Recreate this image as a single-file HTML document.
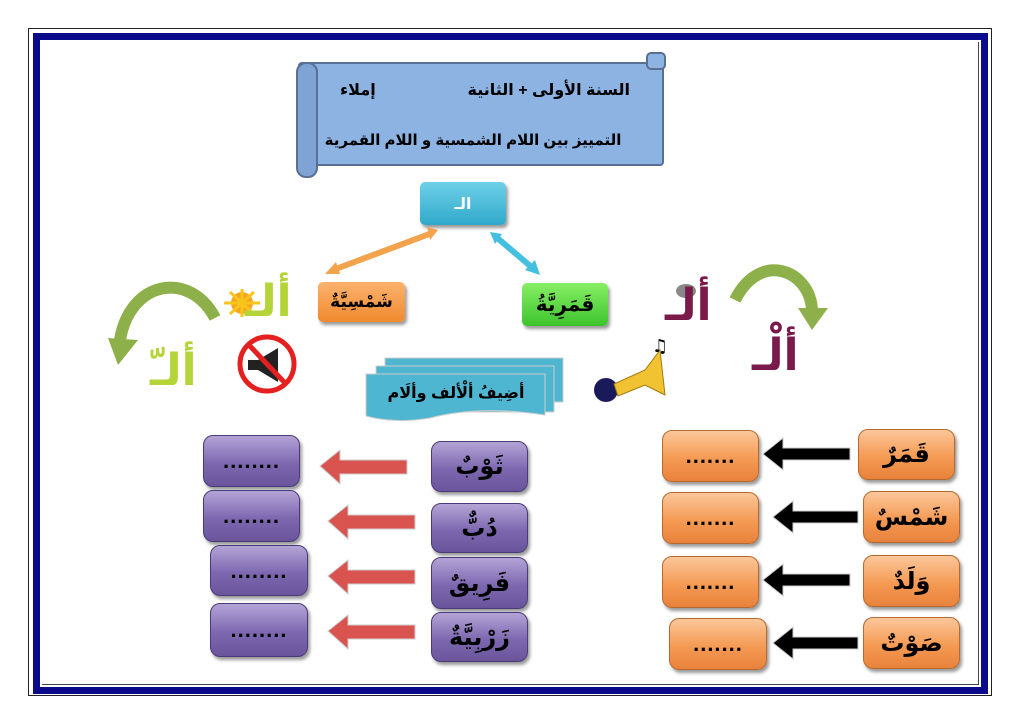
<!DOCTYPE html>
<html><head><meta charset="utf-8"><style>
body{margin:0;width:1024px;height:724px;background:#fff;position:relative;overflow:hidden;font-family:"Liberation Sans","DejaVu Sans",sans-serif}
.a{position:absolute}
.t{display:flex;align-items:center;justify-content:center;font-weight:bold;direction:rtl;white-space:nowrap}
.pb{background:linear-gradient(#b3a4d6,#7d68b0 55%,#6a559c);border:1px solid #4b3a78;border-radius:10px;box-shadow:2px 3px 3px #999;font-size:24px;color:#000}
.ob{background:linear-gradient(#fbc79a,#f59a54 55%,#e8823b);border:1px solid #b86a2e;border-radius:10px;box-shadow:2px 3px 3px #999;font-size:24px;color:#000}
.dots{font-size:22px;letter-spacing:1px;direction:ltr}
</style></head><body>
<!-- border -->
<div class="a" style="left:28px;top:28px;width:962px;height:666px;border:1px solid #222"></div>
<div class="a" style="left:33px;top:33px;width:941px;height:647px;border:7px solid #0a0a8a"></div>
<div class="a" style="left:42px;top:42px;width:936px;height:642px;border:1px solid #444;border-left:none;border-top:none"></div>

<!-- scroll -->
<div class="a" style="left:298px;top:62px;width:362px;height:100px;background:#8db3e2;border:2px solid #5a6f94;border-radius:4px"></div>
<div class="a" style="left:296px;top:62px;width:18px;height:112px;background:#7ea3d4;border:2px solid #5a6f94;border-radius:10px"></div>
<div class="a" style="left:646px;top:52px;width:16px;height:14px;background:#8db3e2;border:2px solid #5a6f94;border-radius:5px"></div>
<div class="a t" style="left:340px;top:78px;width:290px;height:24px;font-size:16px;justify-content:space-between"><span>السنة الأولى + الثانية</span><span>إملاء</span></div>
<div class="a t" style="left:318px;top:128px;width:310px;height:24px;font-size:15px">التمييز بين اللام الشمسية و اللام القمرية</div>

<!-- al box -->
<div class="a t" style="left:420px;top:182px;width:86px;height:43px;background:linear-gradient(#6fd0e8,#2fa9cb);border-radius:5px;box-shadow:2px 3px 3px #999;color:#fff;font-size:16px">الـ</div>
<svg class="a" style="left:0;top:0" width="1024" height="724">
<line x1="333" y1="270" x2="432" y2="233" stroke="#f3a34c" stroke-width="6"/>
<polygon points="325,274 336,262 340,274" fill="#f3a34c"/>
<polygon points="438,230 427,227 430,240" fill="#f3a34c"/>
<line x1="495" y1="236" x2="535" y2="270" stroke="#45bfe0" stroke-width="6"/>
<polygon points="540,275 525,270 535,260" fill="#45bfe0"/>
<polygon points="490,232 502,234 495,244" fill="#45bfe0"/>
<path d="M215,318 C190,270 130,280 120,340" stroke="#8db04a" stroke-width="12" fill="none"/>
<polygon points="108,338 138,340 118,365" fill="#8db04a"/>
<path d="M735,300 C760,250 810,270 812,310" stroke="#8db04a" stroke-width="12" fill="none"/>
<polygon points="798,308 828,308 812,330" fill="#8db04a"/>
<circle cx="242" cy="303" r="11" fill="#f7a51c"/>
<g stroke="#f7c51c" stroke-width="3"><line x1="224" y1="303" x2="260" y2="303"/><line x1="242" y1="289" x2="242" y2="317"/><line x1="230" y1="292" x2="254" y2="314"/><line x1="254" y1="292" x2="230" y2="314"/></g>
<circle cx="267" cy="364" r="27" fill="#fff" stroke="#e52020" stroke-width="5"/>
<polygon points="248,360 258,360 278,348 278,382 258,370 248,370" fill="#222"/>
<line x1="248" y1="344" x2="286" y2="384" stroke="#e52020" stroke-width="5"/>
<ellipse cx="686" cy="291" rx="10" ry="7" fill="#888"/>
<circle cx="606" cy="390" r="12" fill="#1a1a5a"/>
<path d="M614,384 L645,370 L660,350 L665,395 L645,385 L618,396Z" fill="#f1c232" stroke="#a07a10"/>
<text x="652" y="352" font-size="18" font-family="DejaVu Sans">♫</text>
<rect x="385" y="358" width="178" height="44" fill="#4fb6d1" stroke="#ccc"/>
<rect x="376" y="366" width="178" height="46" fill="#4fb6d1" stroke="#ccc"/>
<path d="M366,374 H545 V415 Q480,405 430,418 Q395,424 366,416Z" fill="#4fb6d1" stroke="#ccc"/>
<g fill="#d9534f" stroke="#ccc" stroke-width="1">
<polygon points="320,466 340,450 340,460 407,460 407,474 340,474 340,484"/>
<polygon points="328,521 348,505 348,515 415,515 415,529 348,529 348,539"/>
<polygon points="328,576 348,560 348,570 415,570 415,584 348,584 348,594"/>
<polygon points="328,631 348,615 348,625 415,625 415,639 348,639 348,649"/>
</g>
<g fill="#000" stroke="#ccc" stroke-width="1">
<polygon points="763,454 783,438 783,448 850,448 850,460 783,460 783,470"/>
<polygon points="773,517 793,501 793,511 858,511 858,523 793,523 793,533"/>
<polygon points="763,580 783,564 783,574 850,574 850,586 783,586 783,596"/>
<polygon points="773,643 793,627 793,637 858,637 858,649 793,649 793,659"/>
</g>
</svg>
<div class="a t" style="left:366px;top:378px;width:180px;height:30px;font-size:16px;color:#000">أضِيفُ ألْألف وألَام</div>

<div class="a t" style="left:318px;top:282px;width:87px;height:40px;background:linear-gradient(#fbb26e,#f08a2e);border-radius:5px;box-shadow:2px 3px 3px #999;font-size:17px">شَمْسِيَّةٌ</div>
<div class="a t" style="left:522px;top:283px;width:86px;height:43px;background:linear-gradient(#88ee66,#3cc42c);border-radius:5px;box-shadow:2px 3px 3px #999;font-size:20px">قَمَرِيَّةُ</div>

<div class="a t" style="left:245px;top:276px;font-size:44px;color:#b5d43a">ألـ</div>
<div class="a t" style="left:150px;top:345px;font-size:44px;color:#b5d43a">ألـّ</div>
<div class="a t" style="left:665px;top:280px;font-size:44px;color:#7a1a4a">ألـ</div>
<div class="a t" style="left:752px;top:330px;font-size:44px;color:#7a1a4a">ألْـ</div>

<div class="a t pb dots" style="left:203px;top:435px;width:95px;height:50px">........</div>
<div class="a t pb dots" style="left:203px;top:490px;width:95px;height:50px">........</div>
<div class="a t pb dots" style="left:210px;top:545px;width:96px;height:49px">........</div>
<div class="a t pb dots" style="left:210px;top:603px;width:96px;height:52px">........</div>
<div class="a t pb" style="left:431px;top:441px;width:95px;height:49px">ثَوْبٌ</div>
<div class="a t pb" style="left:431px;top:503px;width:95px;height:48px">دُبٌّ</div>
<div class="a t pb" style="left:431px;top:557px;width:95px;height:50px">فَرِيقٌ</div>
<div class="a t pb" style="left:431px;top:612px;width:95px;height:48px">زَرْبِيَّةٌ</div>
<div class="a t ob dots" style="left:662px;top:430px;width:95px;height:50px">.......</div>
<div class="a t ob dots" style="left:662px;top:492px;width:95px;height:50px">.......</div>
<div class="a t ob dots" style="left:662px;top:556px;width:95px;height:50px">.......</div>
<div class="a t ob dots" style="left:669px;top:618px;width:96px;height:50px">.......</div>
<div class="a t ob" style="left:858px;top:429px;width:95px;height:49px">قَمَرٌ</div>
<div class="a t ob" style="left:863px;top:491px;width:95px;height:50px">شَمْسٌ</div>
<div class="a t ob" style="left:863px;top:555px;width:95px;height:50px">وَلَدٌ</div>
<div class="a t ob" style="left:863px;top:617px;width:95px;height:50px">صَوْتٌ</div>
</body></html>
